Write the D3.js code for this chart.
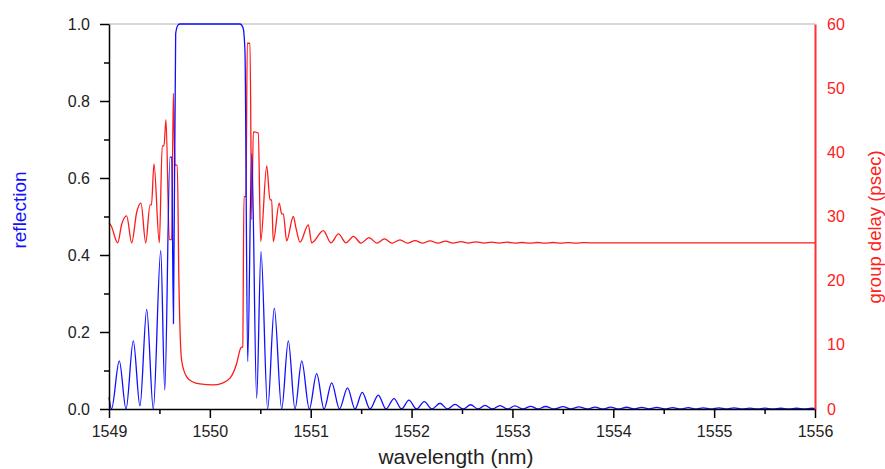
<!DOCTYPE html>
<html>
<head>
<meta charset="utf-8">
<script src="https://cdn.jsdelivr.net/npm/d3@7"></script>
<style>
  body { margin: 0; background: #fff; }
  svg { display: block; font-family: "Liberation Sans", Arial, sans-serif; }
  .axis path, .axis line { stroke: #000; }
  .axis text { fill: #222; font-size: 16px; }
</style>
</head>
<body>
<div id="chart"></div>
<script>
// reflection spectrum, [wavelength nm, reflection]
const reflection = [
  [1549.000, 0.03], [1549.025, 0.0], [1549.102, 0.125], [1549.169, 0.0],
  [1549.241, 0.177], [1549.307, 0.008], [1549.374, 0.259], [1549.439, 0.0],
  [1549.513, 0.411], [1549.553, 0.049], [1549.605, 0.654], [1549.622, 0.654],
  [1549.639, 0.222], [1549.661, 0.975], [1549.684, 0.997], [1549.704, 1.0],
  [1550.299, 1.0], [1550.329, 0.99], [1550.348, 0.93], [1550.375, 0.123],
  [1550.415, 0.664], [1550.464, 0.028], [1550.507, 0.409], [1550.573, 0.0],
  [1550.639, 0.262], [1550.712, 0.0], [1550.778, 0.177], [1550.844, 0.0],
  [1550.911, 0.125], [1550.986, 0.0], [1551.059, 0.092], [1551.132, 0.0],
  [1551.208, 0.068], [1551.285, 0.0], [1551.365, 0.055], [1551.439, 0.0],
  [1551.511, 0.043], [1551.588, 0.0], [1551.670, 0.036], [1551.746, 0.0],
  [1551.826, 0.027], [1551.900, 0.0], [1551.974, 0.023], [1552.049, 0.0],
  [1552.126, 0.019], [1552.202, 0.0], [1552.282, 0.015], [1552.356, 0.0],
  [1552.431, 0.012], [1552.510, 0.0], [1552.586, 0.011], [1552.659, 0.0],
  [1552.728, 0.0095], [1552.802, 0.0], [1552.877, 0.009], [1552.951, 0.0],
  [1553.025, 0.008], [1553.105, 0.0], [1553.181, 0.007], [1553.253, 0.0],
  [1553.328, 0.0065], [1553.415, 0.0], [1553.501, 0.006], [1553.580, 0.0],
  [1553.660, 0.0055], [1553.740, 0.0], [1553.819, 0.005], [1553.897, 0.0],
  [1553.974, 0.005], [1554.053, 0.0], [1554.133, 0.0045], [1554.208, 0.0],
  [1554.282, 0.004], [1554.356, 0.0], [1554.430, 0.004], [1554.510, 0.0],
  [1554.589, 0.0035], [1554.667, 0.0], [1554.744, 0.0035], [1554.818, 0.0],
  [1554.892, 0.003], [1554.970, 0.0], [1555.048, 0.003], [1555.122, 0.0],
  [1555.197, 0.003], [1555.276, 0.0], [1555.355, 0.0025], [1555.430, 0.0],
  [1555.504, 0.0025], [1555.582, 0.0], [1555.660, 0.002], [1555.739, 0.0],
  [1555.818, 0.002], [1555.894, 0.0], [1555.970, 0.002], [1556.000, 0.001]
];

// group delay, [wavelength nm, psec]
const groupDelay = [
  [1549.000, 29.0], [1549.020, 28.6], [1549.086, 25.9], [1549.126, 28.8],
  [1549.175, 30.1], [1549.225, 25.9], [1549.275, 30.7], [1549.317, 32.1],
  [1549.364, 25.9], [1549.407, 31.8], [1549.421, 31.8], [1549.446, 38.2],
  [1549.499, 25.9], [1549.528, 41.0], [1549.545, 41.0], [1549.565, 45.1],
  [1549.598, 26.4], [1549.622, 26.4], [1549.638, 49.2], [1549.654, 38.0],
  [1549.677, 38.0], [1549.693, 20.0], [1549.720, 7.6], [1549.770, 5.0],
  [1549.833, 4.2], [1549.902, 3.9], [1550.031, 3.75], [1550.120, 4.0],
  [1550.200, 4.8], [1550.266, 7.1], [1550.306, 9.5], [1550.326, 9.7],
  [1550.338, 33.1], [1550.358, 33.1], [1550.371, 57.0], [1550.398, 57.0],
  [1550.415, 29.5], [1550.431, 43.2], [1550.480, 43.0], [1550.504, 26.1],
  [1550.564, 37.9], [1550.596, 32.6], [1550.613, 32.6], [1550.629, 26.1],
  [1550.688, 32.1], [1550.712, 30.4], [1550.728, 30.4], [1550.762, 26.2],
  [1550.827, 30.0], [1550.854, 28.2], [1550.894, 26.0], [1550.976, 28.7],
  [1551.010, 25.9], [1551.125, 27.8], [1551.201, 25.9], [1551.275, 27.3],
  [1551.350, 25.9], [1551.424, 26.9], [1551.498, 25.85], [1551.578, 26.7],
  [1551.657, 25.85], [1551.731, 26.5], [1551.806, 25.85], [1551.885, 26.35],
  [1551.960, 25.85], [1552.034, 26.25], [1552.108, 25.85], [1552.183, 26.2],
  [1552.262, 25.85], [1552.336, 26.15], [1552.411, 25.85], [1552.490, 26.1],
  [1552.564, 25.85], [1552.639, 26.05], [1552.718, 25.85], [1552.792, 26.0],
  [1552.867, 25.85], [1552.946, 26.0], [1553.020, 25.85], [1553.095, 25.95],
  [1553.174, 25.85], [1553.248, 25.95], [1553.323, 25.85], [1553.402, 25.95],
  [1553.476, 25.85], [1553.551, 25.93], [1553.630, 25.85], [1553.710, 25.92],
  [1553.868, 25.88], [1554.500, 25.88], [1556.000, 25.88]
];

const xMajor = [1549, 1550, 1551, 1552, 1553, 1554, 1555, 1556];
const xMinor = [1549.5, 1550.5, 1551.5, 1552.5, 1553.5, 1554.5, 1555.5];
const yMajor = [0, 0.2, 0.4, 0.6, 0.8, 1.0];
const yMinor = [0.1, 0.3, 0.5, 0.7, 0.9];
const y2Ticks = [0, 10, 20, 30, 40, 50, 60];

const margin = { top: 24, right: 70, bottom: 60, left: 109 },
    width = 885 - margin.left - margin.right,
    height = 469 - margin.top - margin.bottom;

const x = d3.scaleLinear().domain([1549, 1556]).range([0, width]);
const y = d3.scaleLinear().domain([0, 1]).range([height, 0]);
const y2 = d3.scaleLinear().domain([0, 60]).range([height, 0]);

const svg = d3.select("#chart").append("svg")
    .attr("width", 885)
    .attr("height", 469)
    .append("g")
    .attr("transform", "translate(" + margin.left + "," + margin.top + ")");

// top frame line
svg.append("line")
    .attr("x1", 0).attr("x2", width)
    .attr("y1", 0).attr("y2", 0)
    .attr("stroke", "#b0b0b0").attr("stroke-width", 1.2);

// lines
const reflLine = d3.line()
    .x(d => x(d[0]))
    .y(d => y(d[1]))
    .curve(d3.curveMonotoneX);

const delayLine = d3.line()
    .x(d => x(d[0]))
    .y(d => y2(d[1]))
    .curve(d3.curveMonotoneX);

svg.append("path")
    .datum(groupDelay)
    .attr("fill", "none")
    .attr("stroke", "#ff1a1a")
    .attr("stroke-width", 1.3)
    .attr("d", delayLine);

svg.append("path")
    .datum(reflection)
    .attr("fill", "none")
    .attr("stroke", "#1010ff")
    .attr("stroke-width", 1.3)
    .attr("d", reflLine);

// bottom axis
svg.append("g")
    .attr("class", "axis")
    .attr("transform", "translate(0," + height + ")")
    .call(d3.axisBottom(x).tickValues(xMinor).tickSize(5).tickFormat(""))
    .call(g => g.select(".domain").remove())
    .selectAll("line").attr("stroke-width", 1.5);

svg.append("g")
    .attr("class", "axis")
    .attr("transform", "translate(0," + height + ")")
    .call(d3.axisBottom(x).tickValues(xMajor).tickSize(9).tickSizeOuter(0).tickPadding(8).tickFormat(d3.format("d")))
    .call(g => g.selectAll("line, path").attr("stroke-width", 1.5));

// left axis
svg.append("g")
    .attr("class", "axis")
    .call(d3.axisLeft(y).tickValues(yMinor).tickSize(5).tickFormat(""))
    .call(g => g.select(".domain").remove())
    .selectAll("line").attr("stroke-width", 1.5);

svg.append("g")
    .attr("class", "axis")
    .call(d3.axisLeft(y).tickValues(yMajor).tickSize(9).tickSizeOuter(0).tickPadding(10).tickFormat(d3.format(".1f")))
    .call(g => g.selectAll("line, path").attr("stroke-width", 1.5));

// right axis (group delay)
svg.append("g")
    .attr("transform", "translate(" + width + ",0)")
    .call(d3.axisRight(y2).tickValues(y2Ticks).tickSize(0).tickPadding(12))
    .call(g => g.select(".domain").attr("stroke", "#ff3030").attr("stroke-width", 2))
    .call(g => g.selectAll("text").attr("fill", "#ff2020").attr("font-size", 16));

// axis titles
svg.append("text")
    .attr("transform", "translate(" + (19 - margin.left) + "," + (210 - margin.top) + ") rotate(-90)")
    .attr("text-anchor", "middle")
    .attr("dominant-baseline", "central")
    .attr("fill", "#1010ff")
    .attr("font-size", 19)
    .text("reflection");

svg.append("text")
    .attr("transform", "translate(" + (874 - margin.left) + "," + (227 - margin.top) + ") rotate(-90)")
    .attr("text-anchor", "middle")
    .attr("dominant-baseline", "central")
    .attr("fill", "#ff2020")
    .attr("font-size", 18.5)
    .text("group delay (psec)");

svg.append("text")
    .attr("x", 456 - margin.left)
    .attr("y", 464 - margin.top)
    .attr("text-anchor", "middle")
    .attr("fill", "#222")
    .attr("font-size", 21)
    .text("wavelength (nm)");
</script>
</body>
</html>
